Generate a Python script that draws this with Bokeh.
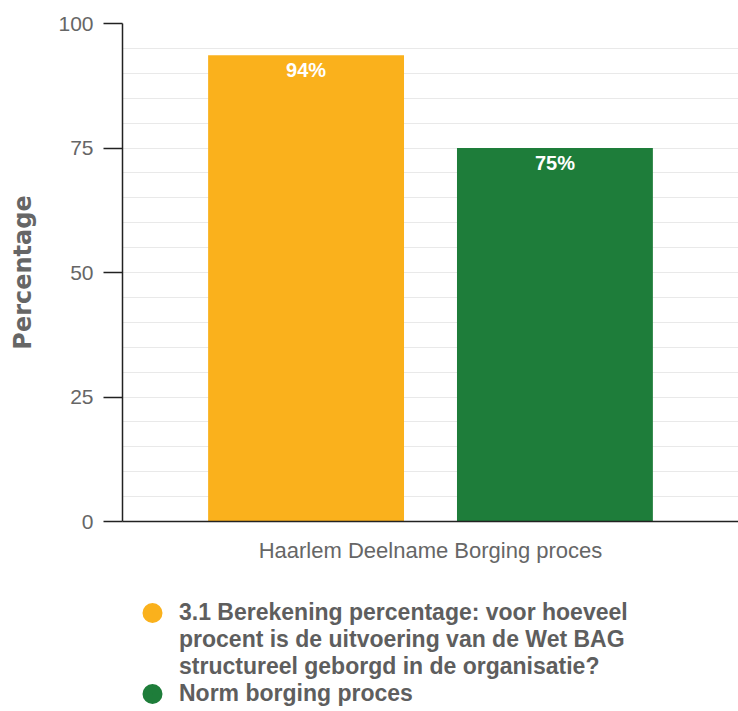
from bokeh.plotting import figure
from bokeh.layouts import column
from bokeh.models import (Range1d, FactorRange, FixedTicker, Legend, LegendItem,
                          ColumnDataSource)
from bokeh.transform import dodge
from bokeh.core.properties import value
from bokeh.embed import file_html
from bokeh.resources import INLINE

# ---- data ----
categories = ["Haarlem Deelname Borging proces"]
series_names = [
    "3.1 Berekening percentage: voor hoeveel\nprocent is de uitvoering van de Wet BAG\nstructureel geborgd in de organisatie?",
    "Norm borging proces",
]
series_values = [93.6, 75.0]
bar_labels = ["94%", "75%"]
series_colors = ["#FAB11C", "#1E7D3A"]
y_ticks = [0, 25, 50, 75, 100]
grid_ticks = list(range(0, 101, 5))

FONT = "Liberation Sans"
GREY = "#666666"

# ---- main chart ----
p = figure(width=738, height=580, x_range=FactorRange(*categories, range_padding=0),
           y_range=Range1d(0, 100), output_backend="svg", toolbar_location=None,
           min_border_left=122, min_border_top=23, min_border_right=0,
           min_border_bottom=59)
p.outline_line_color = None
p.background_fill_color = "white"

offsets = [-0.202, 0.202]
bar_width = 0.318
for name, val, lab, col, off in zip(series_names, series_values, bar_labels, series_colors, offsets):
    src = ColumnDataSource(dict(cat=categories, val=[val], lab=[lab]))
    p.vbar(x=dodge("cat", off, range=p.x_range), top="val", width=bar_width,
           source=src, fill_color=col, line_color=None)
    p.text(x=dodge("cat", off, range=p.x_range), y="val", text="lab", source=src,
           text_align="center", text_baseline="top", y_offset=4,
           text_color="white", text_font=value(FONT), text_font_style="bold",
           text_font_size="20px")

# grid
p.xgrid.grid_line_color = None
p.ygrid.ticker = FixedTicker(ticks=grid_ticks)
p.ygrid.grid_line_color = "#e9e9e9"
p.ygrid.grid_line_width = 1

# y axis
ya = p.yaxis[0]
ya.ticker = FixedTicker(ticks=y_ticks)
ya.minor_tick_line_color = None
ya.major_tick_in = 0
ya.major_tick_out = 19
ya.major_tick_line_color = "#222222"
ya.major_tick_line_width = 1.5
ya.axis_line_color = "#222222"
ya.axis_line_width = 1.5
ya.major_label_standoff = 10
ya.major_label_text_font = FONT
ya.major_label_text_font_size = "21px"
ya.major_label_text_color = GREY
ya.axis_label = "Percentage"
ya.axis_label_text_font = "DejaVu Sans"
ya.axis_label_text_font_style = "bold"
ya.axis_label_text_font_size = "24px"
ya.axis_label_text_color = GREY
ya.axis_label_standoff = 18

# x axis
xa = p.xaxis[0]
xa.major_tick_line_color = None
xa.minor_tick_line_color = None
xa.axis_line_color = "#222222"
xa.axis_line_width = 1.5
xa.major_label_standoff = 10
xa.major_label_text_font = FONT
xa.major_label_text_font_size = "22px"
xa.major_label_text_color = GREY

# ---- legend strip below the chart ----
lg = figure(width=738, height=131, x_range=Range1d(0, 1), y_range=Range1d(0, 1),
            output_backend="svg", toolbar_location=None,
            x_axis_location=None, y_axis_location=None,
            min_border_left=0, min_border_right=0, min_border_top=0, min_border_bottom=0)
lg.outline_line_color = None
lg.grid.visible = False

legend_items = []
for name, col in zip(series_names, series_colors):
    # legend proxy: a circle marker with no visible data point
    proxy = lg.scatter(x=[float("nan")], y=[float("nan")], marker="circle", size=10,
                       fill_color=col, line_color=col, line_width=9.6)
    lines = name.split("\n")
    legend_items.append(LegendItem(label=lines[0], renderers=[proxy]))
    # continuation lines of the wrapped legend label (no marker)
    for extra in lines[1:]:
        blank = lg.scatter(x=[float("nan")], y=[float("nan")], marker="circle", size=1,
                           fill_alpha=0, line_alpha=0)
        legend_items.append(LegendItem(label=extra, renderers=[blank]))

legend = Legend(items=legend_items, location=(17, 4), orientation="vertical")
legend.glyph_width = 26
legend.glyph_height = 27
legend.label_height = 27
legend.label_standoff = 14
legend.label_text_font = FONT
legend.label_text_font_style = "bold"
legend.label_text_font_size = "23px"
legend.label_text_color = "#5e5e5e"
legend.border_line_color = None
legend.background_fill_alpha = 0
legend.margin = 0
legend.padding = 0
legend.spacing = 0
lg.add_layout(legend, "center")

layout = column(p, lg, spacing=0)
open("out.html", "w").write(file_html(layout, INLINE))
